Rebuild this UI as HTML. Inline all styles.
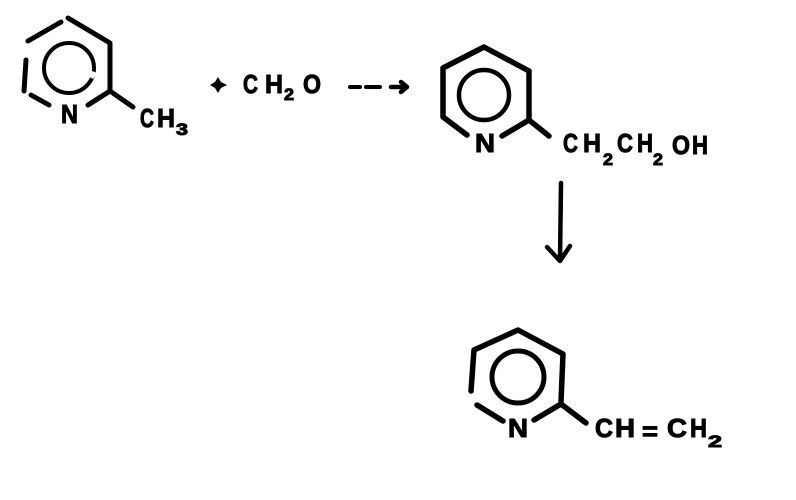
<!DOCTYPE html>
<html><head><meta charset="utf-8"><style>
html,body{margin:0;padding:0;background:#fff;width:796px;height:500px;overflow:hidden}
svg{display:block}
text{font-family:"Liberation Sans",sans-serif;font-weight:700;fill:#000;stroke:#000;stroke-width:1;font-size:26px}
text.s{font-size:17px}
</style></head><body>
<svg width="796" height="500" viewBox="0 0 796 500" xmlns="http://www.w3.org/2000/svg">
<rect width="796" height="500" fill="#fff"/>
<g fill="none" stroke="#000" stroke-width="5" stroke-linecap="round" stroke-linejoin="round">
<path d="M28 41L61 22M68 18L110 43L110 90M88 105L110 91L133 107M31 95L49 105M26 60L24 91"/>
<circle cx="69" cy="68" r="25" stroke-width="4"/>
<path d="M350 87H360M366 87H380" stroke-width="4"/>
<path d="M391 87H406M401 82L407 87L401 92" stroke-width="4.5"/>
<path d="M443 117L443 68L484 47L529 71L529 118M443 117L467 135M502 136L529 120L549 136" stroke-width="5.5"/>
<circle cx="484" cy="95" r="25" stroke-width="4.5"/>
<path d="M561 183L560 260M547 247L560 261L570 246" stroke-width="4.5"/>
<path d="M471 391L474 350L518 330L563 354L561 402M477 405L503 421M534 420L561 404L586 423" stroke-width="5.5"/>
<circle cx="518" cy="377" r="26" stroke-width="5"/>
</g>
<path d="M92 71L97 73L93 79L88 76Z" fill="#fff"/>
<path d="M218 77L221 82L227 85L221 88L218 93L215 88L210 85L215 82Z" fill="#000"/>
<text x="61" y="123" textLength="17" lengthAdjust="spacingAndGlyphs">N</text>
<text x="140" y="127" textLength="14" lengthAdjust="spacingAndGlyphs">C</text>
<text x="157" y="127" textLength="18" lengthAdjust="spacingAndGlyphs">H</text>
<text class="s" x="176" y="135" textLength="12" lengthAdjust="spacingAndGlyphs">3</text>
<text x="243" y="93" textLength="15" lengthAdjust="spacingAndGlyphs">C</text>
<text x="265" y="93" textLength="18" lengthAdjust="spacingAndGlyphs">H</text>
<text class="s" x="284" y="100" textLength="10" lengthAdjust="spacingAndGlyphs">2</text>
<text x="303" y="93" textLength="18" lengthAdjust="spacingAndGlyphs">O</text>
<text x="475" y="152" textLength="20" lengthAdjust="spacingAndGlyphs">N</text>
<text x="563" y="152" textLength="15" lengthAdjust="spacingAndGlyphs">C</text>
<text x="583" y="152" textLength="18" lengthAdjust="spacingAndGlyphs">H</text>
<text class="s" x="603" y="165" textLength="10" lengthAdjust="spacingAndGlyphs">2</text>
<text x="617" y="152" textLength="16" lengthAdjust="spacingAndGlyphs">C</text>
<text x="637" y="152" textLength="16" lengthAdjust="spacingAndGlyphs">H</text>
<text class="s" x="653" y="165" textLength="10" lengthAdjust="spacingAndGlyphs">2</text>
<text x="672" y="154" textLength="18" lengthAdjust="spacingAndGlyphs">O</text>
<text x="692" y="154" textLength="16" lengthAdjust="spacingAndGlyphs">H</text>
<text x="508" y="437" textLength="20" lengthAdjust="spacingAndGlyphs">N</text>
<text x="595" y="437" textLength="18" lengthAdjust="spacingAndGlyphs">C</text>
<text x="615" y="437" textLength="20" lengthAdjust="spacingAndGlyphs">H</text>
<text x="642" y="440" textLength="16" lengthAdjust="spacingAndGlyphs">=</text>
<text x="667" y="437" textLength="20" lengthAdjust="spacingAndGlyphs">C</text>
<text x="690" y="437" textLength="17" lengthAdjust="spacingAndGlyphs">H</text>
<text class="s" x="708" y="447" textLength="14" lengthAdjust="spacingAndGlyphs">2</text>
</svg>
</body></html>
